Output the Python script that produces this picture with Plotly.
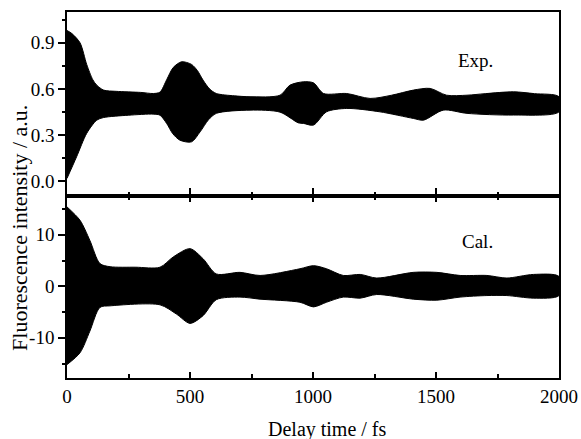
import plotly.graph_objects as go

# Experimental envelope (upper / lower edge of the dense oscillation)
exp_t_up = [0, 20, 53, 80, 105, 121, 149, 200, 300, 351, 378, 405, 432, 466, 506, 530, 553, 580, 607, 680, 744, 866, 906, 961, 1002, 1043, 1137, 1232, 1320, 1408, 1476, 1543, 1626, 1700, 1815, 1900, 2000]
exp_up = [0.98, 0.96, 0.90, 0.76, 0.66, 0.625, 0.593, 0.585, 0.578, 0.571, 0.58, 0.66, 0.74, 0.777, 0.76, 0.72, 0.658, 0.60, 0.571, 0.556, 0.55, 0.56, 0.625, 0.647, 0.64, 0.571, 0.571, 0.539, 0.56, 0.593, 0.604, 0.56, 0.56, 0.57, 0.582, 0.57, 0.55]
exp_t_lo = [0, 39, 80, 121, 149, 250, 351, 378, 405, 430, 459, 506, 541, 575, 607, 744, 866, 941, 961, 1002, 1055, 1137, 1272, 1408, 1449, 1530, 1626, 1815, 2000]
exp_lo = [0.02, 0.16, 0.312, 0.398, 0.415, 0.43, 0.437, 0.43, 0.377, 0.31, 0.268, 0.257, 0.322, 0.40, 0.442, 0.463, 0.45, 0.38, 0.377, 0.366, 0.452, 0.474, 0.452, 0.409, 0.398, 0.463, 0.442, 0.431, 0.452]

# Calculated envelope
cal_t_up = [0, 53, 93, 134, 175, 280, 378, 432, 500, 553, 607, 703, 785, 947, 1002, 1055, 1123, 1192, 1259, 1408, 1503, 1598, 1707, 1788, 1896, 2000]
cal_up = [15.4, 12.8, 8.9, 4.4, 3.8, 3.7, 3.7, 5.7, 7.3, 5.35, 2.4, 2.7, 2.1, 3.4, 4.0, 3.4, 2.1, 2.3, 1.6, 2.7, 2.7, 2.1, 2.1, 1.6, 2.3, 1.9]
cal_t_lo = [0, 53, 93, 134, 175, 378, 445, 500, 553, 607, 703, 785, 947, 1002, 1055, 1123, 1192, 1259, 1408, 1503, 1598, 1707, 1788, 1896, 2000]
cal_lo = [-15.2, -12.9, -8.7, -4.1, -3.8, -3.6, -5.4, -7.2, -5.7, -2.6, -2.1, -2.5, -3.1, -4.0, -3.1, -2.1, -2.3, -1.6, -2.5, -2.7, -2.1, -1.8, -1.8, -2.3, -1.8]

x_ticks = [0, 500, 1000, 1500, 2000]
x_ticklabels = ["0", "500", "1000", "1500", "2000"]
exp_ticks = [0.0, 0.3, 0.6, 0.9]
exp_ticklabels = ["0.0", "0.3", "0.6", "0.9"]
cal_ticks = [-10, 0, 10]
cal_ticklabels = ["-10", "0", "10"]

FONT = "Liberation Serif"

fig = go.Figure()
fig.add_trace(go.Scatter(
    x=exp_t_up + exp_t_lo[::-1], y=exp_up + exp_lo[::-1],
    mode="lines", fill="toself", fillcolor="black",
    line=dict(color="black", width=1, shape="spline", smoothing=0.8),
    xaxis="x2", yaxis="y2", hoverinfo="skip", showlegend=False))
fig.add_trace(go.Scatter(
    x=cal_t_up + cal_t_lo[::-1], y=cal_up + cal_lo[::-1],
    mode="lines", fill="toself", fillcolor="black",
    line=dict(color="black", width=1, shape="spline", smoothing=0.8),
    xaxis="x", yaxis="y", hoverinfo="skip", showlegend=False))

axis_common = dict(showline=True, linecolor="black", linewidth=1.5,
                   showgrid=False, zeroline=False, tickcolor="black", tickwidth=1.5,
                   automargin=False,
                   tickfont=dict(family=FONT, size=19, color="black"))

split = 0.497
fig.update_layout(
    width=581, height=439,
    margin=dict(l=67, r=22, t=12, b=61),
    font=dict(family=FONT, size=19, color="black"),
    paper_bgcolor="white", plot_bgcolor="white",
    xaxis=dict(domain=[0, 1], range=[0, 2000], anchor="y",
               tickmode="array", tickvals=x_ticks, ticktext=x_ticklabels,
               ticks="inside", ticklen=6, mirror="ticks",
               minor=dict(dtick=250, ticks="inside", ticklen=4, tickwidth=1.5, tickcolor="black"),
               **axis_common),
    xaxis2=dict(domain=[0, 1], range=[0, 2000], anchor="y2", matches="x",
                tickmode="array", tickvals=x_ticks, showticklabels=False,
                ticks="inside", ticklen=8, mirror=True,
                minor=dict(dtick=250, ticks="inside", ticklen=4, tickwidth=1.5, tickcolor="black"),
                **axis_common),
    yaxis=dict(domain=[0, split], range=[-17.8, 17.5], anchor="x",
               tickmode="array", tickvals=cal_ticks, ticktext=cal_ticklabels,
               ticks="outside", ticklen=7, mirror=True,
               minor=dict(tickvals=[-15, -5, 5, 15], ticks="outside", ticklen=3, tickwidth=1.5, tickcolor="black"),
               **axis_common),
    yaxis2=dict(domain=[split, 1], range=[-0.095, 1.1], anchor="x2",
                tickmode="array", tickvals=exp_ticks, ticktext=exp_ticklabels,
                ticks="outside", ticklen=7, mirror=True,
                minor=dict(tickvals=[0.15, 0.45, 0.75, 1.05], ticks="outside", ticklen=3, tickwidth=1.5, tickcolor="black"),
                **axis_common),
    annotations=[
        dict(text="Exp.", x=1659, y=0.788, xref="x2", yref="y2", showarrow=False,
             font=dict(family=FONT, size=19, color="black")),
        dict(text="Cal.", x=1670, y=8.6, xref="x", yref="y", showarrow=False,
             font=dict(family=FONT, size=19, color="black")),
        dict(text="Delay time / fs", x=0.530, y=-0.142, xref="paper", yref="paper",
             showarrow=False, xanchor="center", yanchor="middle",
             font=dict(family=FONT, size=20, color="black")),
        dict(text="Fluorescence intensity / a.u.", x=-0.0955, y=0.41, xref="paper", yref="paper",
             showarrow=False, textangle=-90, xanchor="center", yanchor="middle",
             font=dict(family=FONT, size=22, color="black")),
    ],
)

fig.write_html("out.html", config={"displayModeBar": False},
               post_script="document.body.style.margin='0px';")
